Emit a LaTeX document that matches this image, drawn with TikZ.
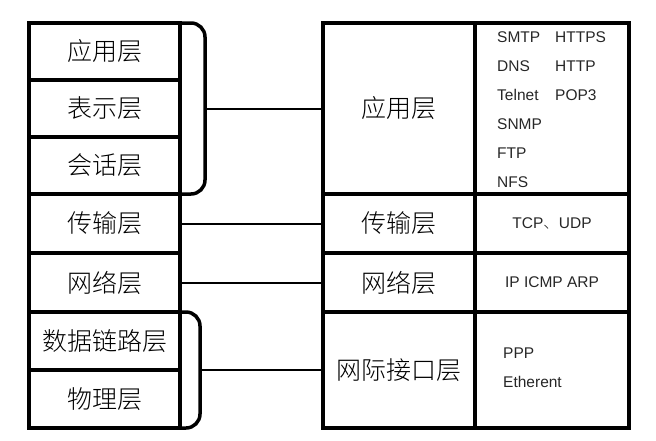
\documentclass[tikz,border=0pt]{standalone}
\usepackage{fontspec}
\setmainfont{Liberation Sans}
\newfontfamily\cjk{Noto Sans CJK SC}[UprightFont=* Light]
\usepackage{tikz}

\tikzset{
  layer/.style={draw, line width=4pt, outer sep=0pt, inner sep=0pt,
    font=\cjk\fontsize{25}{30}\selectfont},
  proto/.style={inner sep=0pt, text=black!85, font=\fontsize{15.5}{29}\selectfont},
  conn/.style={line width=2pt},
  brk/.style={line width=3.5pt, rounded corners=14pt},
}

\begin{document}
\begin{tikzpicture}[x=1pt,y=-1pt]
            \useasboundingbox (0,0) rectangle (656,440);
            % OSI model, left column
            \node at (104.5,51.5) [layer, minimum width=151, minimum height=57] (app) {应用层};
            \node at (104.5,108.5) [layer, minimum width=151, minimum height=57] (pres) {表示层};
            \node at (104.5,165.5) [layer, minimum width=151, minimum height=57] (sess) {会话层};
            \node at (104.5,223.5) [layer, minimum width=151, minimum height=59] (trans) {传输层};
            \node at (104.5,282.5) [layer, minimum width=151, minimum height=59] (net) {网络层};
            \node at (104.5,341) [layer, minimum width=151, minimum height=58] (dlink) {数据链路层};
            \node at (104.5,399) [layer, minimum width=151, minimum height=58] (phys) {物理层};
            % TCP/IP model, right table
            \node at (399,108.5) [layer, minimum width=152, minimum height=171] (tapp) {应用层};
            \node at (399,223.5) [layer, minimum width=152, minimum height=59] (ttrans) {传输层};
            \node at (399,282.5) [layer, minimum width=152, minimum height=59] (tnet) {网络层};
            \node at (399,370) [layer, minimum width=152, minimum height=116] (tif) {网际接口层};
            \node at (552,108.5) [layer, minimum width=154, minimum height=171] (papp) {};
            \node at (552,223.5) [layer, minimum width=154, minimum height=59, proto] (ptrans) {TCP{\cjk 、}UDP};
            \node at (552,282.5) [layer, minimum width=154, minimum height=59, proto] (pnet) {IP ICMP ARP};
            \node at (552,370) [layer, minimum width=154, minimum height=116] (pif) {};
            \node at (497,42) [proto, anchor=base west] (lapp) {\begin{tabular}[t]{@{}p{58pt}@{}l@{}}
              SMTP & HTTPS\\ DNS & HTTP\\ Telnet & POP3\\ SNMP\\ FTP\\ NFS\end{tabular}};
            \node at (503,358) [proto, anchor=base west] (lif) {\begin{tabular}[t]{@{}l@{}}
              PPP\\ Etherent\end{tabular}};
            % brackets and links
            \coordinate (b1) at (205,108.5);
            \coordinate (b2) at (200,370);
            \draw[brk] (app.north east) -| (b1) |- (sess.south east);
            \draw[brk] (dlink.north east) -| (b2) |- (phys.south east);
            \draw[conn] (b1) -- (tapp.west);
            \draw[conn] (trans.east) -- (ttrans.west);
            \draw[conn] (net.east) -- (tnet.west);
            \draw[conn] (b2) -- (tif.west);
        \end{tikzpicture}
\end{document}
